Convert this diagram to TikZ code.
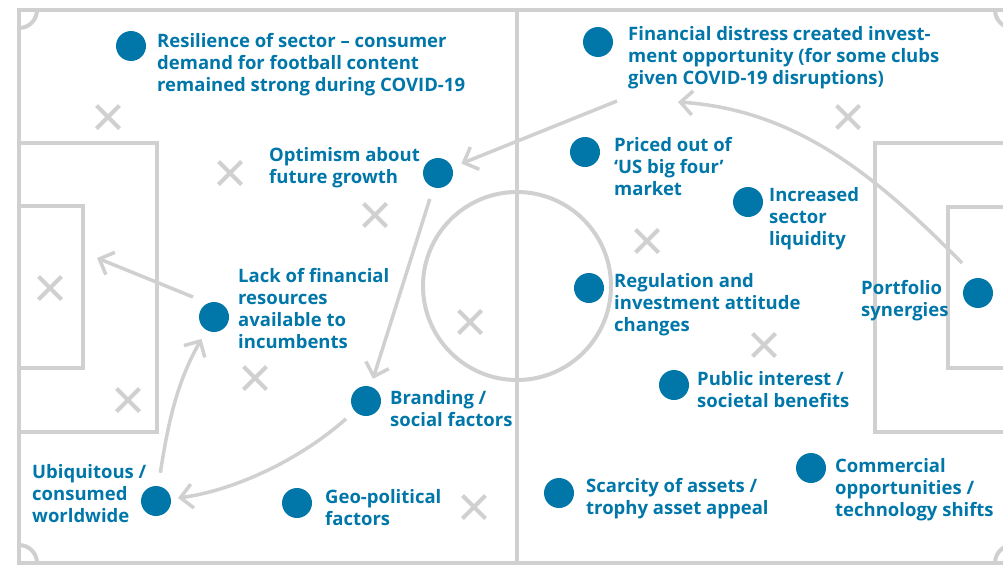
\documentclass[tikz,border=0pt]{standalone}
\usepackage{fontspec}
\setmainfont{Open Sans}
\usetikzlibrary{arrows.meta}
\definecolor{dotblue}{RGB}{0,118,169}
\definecolor{pitchgrey}{RGB}{208,208,208}
\begin{document}
\begin{tikzpicture}[x=1pt,y=-1pt,
  pitch/.style={draw=pitchgrey,line width=4pt},
  xline/.style={draw=pitchgrey,line width=4pt},
  arr/.style={draw=pitchgrey,line width=3.5pt,-{Straight Barb[length=12pt,width=24pt]}},
  dot/.style={circle,fill=dotblue,minimum size=30pt,inner sep=0pt},
  lbl/.style={text=dotblue,font=\fontsize{18.5}{22}\selectfont\bfseries,align=left,inner sep=0pt,anchor=north west,execute at begin node={\strut}},
  xm/.pic={\draw[xline] (-11.5,-11.5) -- (11.5,11.5) (-11.5,11.5) -- (11.5,-11.5);}
]
\useasboundingbox (0,0) rectangle (1003,565);
\clip (0,0) rectangle (1003,565);
% pitch
\draw[pitch] (19,10) rectangle (1013,563);
\draw[pitch] (517,10) -- (517,563);
\draw[pitch] (517,286) circle[radius=94];
\draw[pitch] (19,143) -- (157,143) -- (157,432) -- (19,432);
\draw[pitch] (19,206) -- (83,206) -- (83,368) -- (19,368);
\draw[pitch] (1013,143) -- (875,143) -- (875,432) -- (1013,432);
\draw[pitch] (1013,207) -- (948,207) -- (948,368) -- (1013,368);
\begin{scope}
  \clip (19,10) rectangle (1013,563);
  \draw[pitch] (19,10) circle[radius=18];
  \draw[pitch] (19,563) circle[radius=18];
  \draw[pitch] (1013,10) circle[radius=18];
  \draw[pitch] (1013,563) circle[radius=18];
\end{scope}
% crosses
\pic at (108,117) {xm};
\pic at (230,173) {xm};
\pic at (375,215) {xm};
\pic at (50,288) {xm};
\pic at (128,400) {xm};
\pic at (255,378) {xm};
\pic at (470,322) {xm};
\pic at (474,507) {xm};
\pic at (848,117) {xm};
\pic at (647,241) {xm};
\pic at (764,345) {xm};
% dots
\node[dot] (res) at (131,46) {};
\node[dot] (opt) at (438,173) {};
\node[dot] (lack) at (214,317) {};
\node[dot] (brd) at (366,401) {};
\node[dot] (ubq) at (156,501) {};
\node[dot] (geo) at (297,503) {};
\node[dot] (fin) at (598,42) {};
\node[dot] (pri) at (585,152) {};
\node[dot] (inc) at (748,202) {};
\node[dot] (reg) at (589,288) {};
\node[dot] (pf) at (978,293) {};
\node[dot] (pub) at (674,385) {};
\node[dot] (sca) at (559,493) {};
\node[dot] (com) at (811,468) {};
% labels
\node[lbl] (resT) at (157,33.6) {Resilience of sector – consumer\\demand for football content\\remained strong during COVID-19};
\node[lbl] (optT) at (269,147.6) {Optimism about\\future growth};
\node[lbl] (lackT) at (238,268.6) {Lack of financial\\resources\\available to\\incumbents};
\node[lbl] (brdT) at (390,390.6) {Branding /\\social factors};
\node[lbl] (ubqT) at (32,464.6) {Ubiquitous /\\consumed\\worldwide};
\node[lbl] (geoT) at (325,489.6) {Geo-political\\factors};
\node[lbl] (finT) at (628,26.6) {Financial distress created invest-\\ment opportunity (for some clubs\\given COVID-19 disruptions)};
\node[lbl] (priT) at (614,137.6) {Priced out of\\‘US big four’\\market};
\node[lbl] (incT) at (769,187.6) {Increased\\sector\\liquidity};
\node[lbl] (regT) at (614,273.6) {Regulation and\\investment attitude\\changes};
\node[lbl] (pfT) at (861,280.6) {Portfolio\\synergies};
\node[lbl] (pubT) at (697,371.6) {Public interest /\\societal benefits};
\node[lbl] (scaT) at (586,478.6) {Scarcity of assets /\\trophy asset appeal};
\node[lbl] (comT) at (835,458.6) {Commercial\\opportunities /\\technology shifts};
% arrow ends
\coordinate (a1s) at (617,101);
\coordinate (a2e) at (678,102);
\coordinate (a6e) at (97,258);
% arrows
\draw[arr,shorten >=10pt] (a1s) -- (opt);
\draw[arr] ([shift={(-16,-30)}]pf.center) .. controls (878,178) and (798,110) .. (a2e);
\draw[arr,shorten <=12pt,shorten >=8pt] (opt) -- (brd);
\draw[arr,shorten <=11.6pt,shorten >=7pt] (brd) .. controls (302,458) and (237,490) .. (ubq);
\draw[arr,shorten <=13.4pt,shorten >=10pt] (ubq) .. controls (168,423) and (177,382) .. (lack);
\draw[arr] ([shift={(-21,-20)}]lack.center) -- (a6e);
\end{tikzpicture}
\end{document}
